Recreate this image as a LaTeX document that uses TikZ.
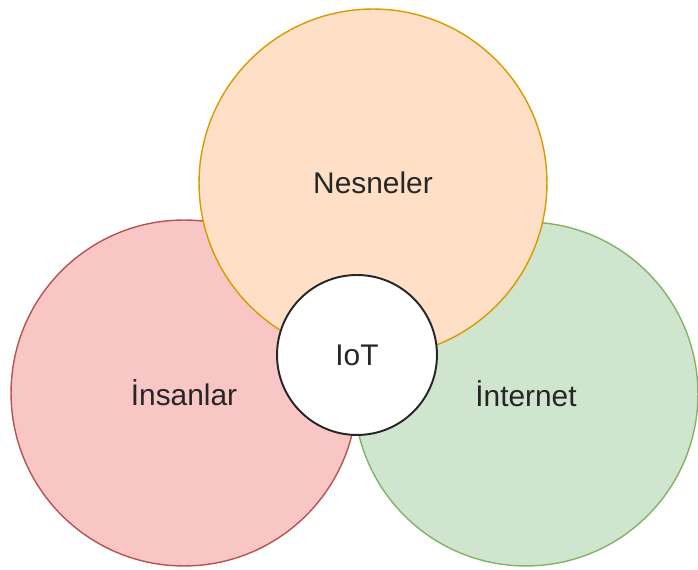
\documentclass[tikz,border=0pt]{standalone}
\usepackage{fontspec}
\setmainfont{Liberation Sans}
\definecolor{nesfill}{HTML}{FFE0C6}
\definecolor{nesline}{HTML}{D79B00}
\definecolor{insfill}{HTML}{F8C6C4}
\definecolor{insline}{HTML}{B85450}
\definecolor{intfill}{HTML}{CFE5CE}
\definecolor{intline}{HTML}{82B366}
\begin{document}
\begin{tikzpicture}[
    x=0.02cm, y=-0.02cm,
    setstyle/.style={circle, inner sep=0pt, line width=0.8pt, text=black!85, font=\fontsize{17}{20}\selectfont, text centered},
    iotstyle/.style={circle, draw=black!85, fill=white, line width=1.1pt, minimum size=3.2cm, inner sep=0pt, text=black!85, font=\fontsize{17}{20}\selectfont}
]
    \useasboundingbox (0,0) rectangle (698,570);
    \node[setstyle, draw=insline, fill=insfill, minimum size=6.92cm] (insanlar) at (184,393) {İnsanlar};
    \node[setstyle, draw=intline, fill=intfill, minimum size=6.88cm] (internet) at (526,394) {İnternet};
    \node[setstyle, draw=nesline, fill=nesfill, minimum size=6.96cm] (nesneler) at (373,183) {Nesneler};
    \node[iotstyle] (iot) at (357,355) {IoT};
\end{tikzpicture}
\end{document}
